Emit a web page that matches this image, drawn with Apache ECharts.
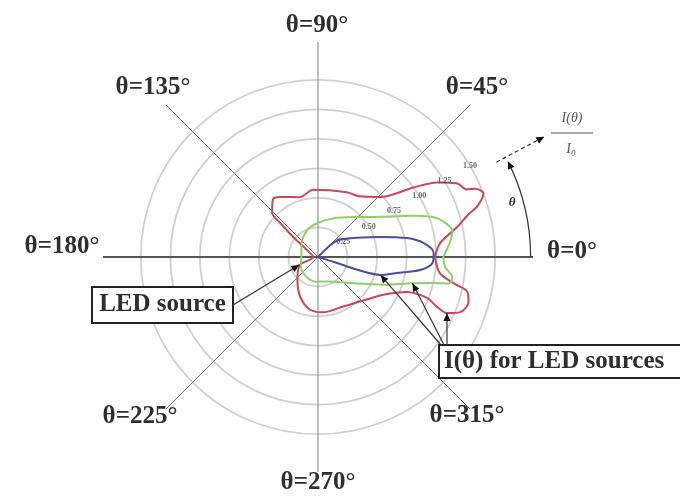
<!DOCTYPE html>
<html><head><meta charset="utf-8">
<script src="https://cdn.jsdelivr.net/npm/echarts@6/dist/echarts.min.js"></script>
<style>html,body{margin:0;padding:0;background:#fff}#c{width:680px;height:498px}</style>
</head><body><div id="c"></div>
<script>
// ---- data: [I(θ)/I0, θ in degrees], in path order ----
const angleTicks = [0, 45, 90, 135, 180, 225, 270, 315];
const radiusTicks = [0.25, 0.5, 0.75, 1.0, 1.25, 1.5];
const redCurve = [
  [0.99,0],[1.04,6.5],[1.20,12],[1.33,16],[1.41,17.5],[1.50,21],[1.45,23.5],[1.38,24.5],
  [1.33,28],[1.19,32],[1.00,36],[0.73,44],[0.62,56],[0.60,66],[0.57,94],[0.53,107],
  [0.60,122],[0.62,128],[0.54,136],[0.43,138],[0.27,141],[0.11,148],[0.04,180],
  [0.17,204],[0.26,228],[0.37,246],[0.45,261],[0.47,275],[0.47,297],[0.53,316],
  [0.64,330],[0.81,338.5],[0.99,339.4],[1.07,337.7],[1.19,336.5],[1.29,338.8],
  [1.33,343.3],[1.30,346.8],[1.18,348.9],[1.04,352.5],[0.99,360]
];
const greenCurve = [
  [1.06,0],[1.12,6],[1.16,11],[1.10,16],[1.02,19.5],[0.86,24],[0.66,31],[0.47,46],
  [0.35,69],[0.29,90],[0.25,110],[0.20,131],[0.15,160],[0.14,180],[0.16,205],
  [0.19,234],[0.21,265],[0.22,290],[0.35,321],[0.60,337],[0.83,344.5],[1.00,347.3],
  [1.13,348.5],[1.15,351.5],[1.08,355.5],[1.06,360]
];
const blueCurve = [
  [0,40],[0.10,45],[0.22,40],[0.37,26],[0.55,18],[0.77,12],[0.90,7.6],[0.98,2],
  [0.97,357],[0.87,352.7],[0.68,348.5],[0.55,344],[0.35,342],[0.17,342.5],[0,340]
];
const angleLabelText = angleTicks.map(a => 'θ=' + a + '°');
const radiusLabelText = radiusTicks.map(v => v.toFixed(2));

// ---- layout ----
const R_MAX = 1.82;
const angleLabelPos = {0:[572,252],45:[477,88],90:[317,26],135:[153,88],180:[62,247],225:[140,417],270:[318,483],315:[467,416]};
const SERIF = '"Liberation Serif","Times New Roman",serif';

const chart = echarts.init(document.getElementById('c'), null, {renderer: 'canvas'});
const circleColors = ['rgba(0,0,0,0)','#d0d0d0','#d0d0d0','#d0d0d0','#d0d0d0','#d0d0d0','#d0d0d0','rgba(0,0,0,0)','rgba(0,0,0,0)'];
const spokeColors = ['#666','#707070','#808080','#707070','#666','#707070','#808080','#707070','#666'];

chart.setOption({
  animation: false,
  backgroundColor: '#fff',
  polar: { center: [318, 257], radius: 215 },
  angleAxis: {
    type: 'value', min: 0, max: 360, interval: 45, startAngle: 0, clockwise: false,
    axisLine: {show: false}, axisTick: {show: false}, axisLabel: {show: false},
    splitLine: {show: true, lineStyle: {color: spokeColors, width: 1}}
  },
  radiusAxis: {
    type: 'value', min: 0, max: R_MAX, interval: 0.25,
    axisLine: {show: false}, axisTick: {show: false}, axisLabel: {show: false},
    splitLine: {show: true, lineStyle: {color: circleColors, width: 1.8}}
  },
  series: [
    { name: 'axis', type: 'line', coordinateSystem: 'polar', silent: true, symbol: 'none', z: 1,
      data: [[R_MAX,180],[0,0],[R_MAX,0]], lineStyle: {color: '#555', width: 2} },
    { name: 'red', type: 'line', coordinateSystem: 'polar', symbol: 'none', smooth: 0.3, z: 3,
      data: redCurve, lineStyle: {color: '#cc4654', width: 2} },
    { name: 'green', type: 'line', coordinateSystem: 'polar', symbol: 'none', smooth: 0.3, z: 3,
      data: greenCurve, lineStyle: {color: '#8fd067', width: 2} },
    { name: 'blue', type: 'line', coordinateSystem: 'polar', symbol: 'none', smooth: 0.3, z: 3,
      data: blueCurve, lineStyle: {color: '#4b4ea3', width: 2} },
    { name: 'rlabels', type: 'scatter', coordinateSystem: 'polar', symbolSize: 0, silent: true, z: 4,
      data: radiusTicks.map((v, i) => ({value: [v, 31], label: {formatter: radiusLabelText[i]}})),
      label: {show: true, position: 'inside', fontSize: 8, fontWeight: 'bold', color: '#444', fontFamily: SERIF} }
  ]
});

function P(r, a) { return chart.convertToPixel({seriesIndex: 1}, [r, a]); }
function head(tip, from, len, w) {
  len = len || 8; w = w || 3.5;
  const dx = tip[0]-from[0], dy = tip[1]-from[1], d = Math.hypot(dx, dy) || 1;
  const ux = dx/d, uy = dy/d;
  const bx = tip[0]-ux*len, by = tip[1]-uy*len;
  return {type: 'polygon', z: 10, shape: {points: [tip, [bx - uy*w, by + ux*w], [bx + uy*w, by - ux*w]]}, style: {fill: '#111'}};
}
function line(a, b, extra) {
  return Object.assign({type: 'line', z: 9, shape: {x1: a[0], y1: a[1], x2: b[0], y2: b[1]}, style: {stroke: '#333', lineWidth: 1.2}}, extra || {});
}
function text(t, x, y, font, align, fill) {
  return {type: 'text', z: 11, x: x, y: y, style: {text: t, font: font, fill: fill || '#2e2e2e', align: align || 'center', textAlign: align || 'center', verticalAlign: 'middle', textVerticalAlign: 'middle'}};
}

const g = [];
angleTicks.forEach((a, i) => {
  const p = angleLabelPos[a];
  g.push(text(angleLabelText[i], p[0], p[1], 'bold 25px ' + SERIF));
});
g.push({type: 'rect', z: 8, shape: {x: 92, y: 287, width: 141, height: 36}, style: {fill: '#fff', stroke: '#222', lineWidth: 2}});
g.push(text('LED source', 162.5, 305, 'bold 25px ' + SERIF));
const ledTip = P(0.17, 203);
g.push(line([233, 305], ledTip));
g.push(head(ledTip, [233, 305]));
g.push({type: 'rect', z: 8, shape: {x: 439, y: 345, width: 250, height: 33}, style: {fill: '#fff', stroke: '#222', lineWidth: 2}});
g.push(text('I(θ) for LED sources', 444, 362, 'bold 25px ' + SERIF, 'left'));
const tips = [[P(1.19, 336.5), [447, 345]], [P(0.83, 344.5), [444, 345]], [P(0.55, 344), [441, 345]]];
tips.forEach(t => { g.push(line(t[1], t[0])); g.push(head(t[0], t[1])); });
const c0 = P(0, 0), rArc = Math.hypot(P(1.80, 0)[0]-c0[0], P(1.80, 0)[1]-c0[1]);
g.push({type: 'arc', z: 9, shape: {cx: c0[0], cy: c0[1], r: rArc, startAngle: -26.5*Math.PI/180, endAngle: 0, clockwise: true}, style: {stroke: '#333', lineWidth: 1.2, fill: null}});
g.push(head(P(1.80, 26.8), P(1.80, 24)));
g.push(text('θ', 512, 203, 'italic bold 13px ' + SERIF));
const ra = P(1.71, 28), rb = P(2.17, 28);
g.push(line(ra, rb, {style: {stroke: '#333', lineWidth: 1.2, lineDash: [4, 3]}}));
g.push(head(rb, ra));
g.push(text('I(θ)', 572, 118, 'italic 14px ' + SERIF, 'center', '#555'));
g.push(line([551, 133], [593, 133], {style: {stroke: '#555', lineWidth: 1}}));
g.push(text('I₀', 571, 149, 'italic 14px ' + SERIF, 'center', '#555'));

chart.setOption({graphic: {elements: g}});
</script>
</body></html>
